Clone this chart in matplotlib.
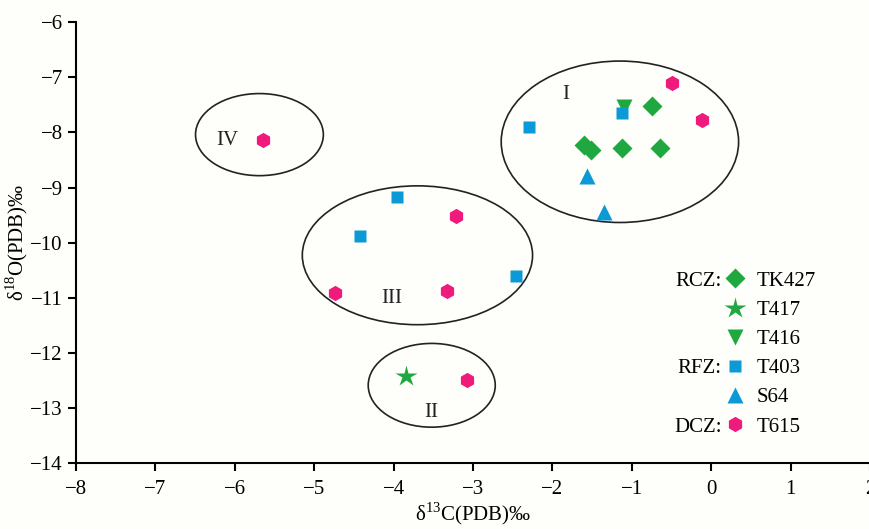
import matplotlib

matplotlib.use("Agg")
import matplotlib.pyplot as plt
from matplotlib.patches import Ellipse

plt.rcParams["font.family"] = ["Liberation Serif", "DejaVu Serif"]
plt.rcParams["mathtext.fontset"] = "custom"
plt.rcParams["mathtext.rm"] = "Liberation Serif"

GREEN = "#1fa83f"
BLUE = "#0b9ad6"
PINK = "#ef1a7c"

# well data: delta13C, delta18O (per mil, PDB)
TK427_X = [-1.60, -1.51, -1.12, -0.65, -0.75]
TK427_Y = [-8.23, -8.32, -8.29, -8.29, -7.52]
T417_X = [-3.84]
T417_Y = [-12.42]
T416_X = [-1.10]
T416_Y = [-7.53]
T403_X = [-2.30, -1.12, -3.96, -4.42, -2.46]
T403_Y = [-7.90, -7.65, -9.18, -9.88, -10.61]
S64_X = [-1.57, -1.35]
S64_Y = [-8.79, -9.44]
T615_X = [-0.50, -0.12, -5.64, -3.22, -4.74, -3.33, -3.08]
T615_Y = [-7.11, -7.78, -8.14, -9.51, -10.92, -10.87, -12.50]

# groups: label, ellipse centre, width, height, label position
GROUP_NAMES = ["I", "II", "III", "IV"]
GROUP_CENTRES = [(-1.15, -8.17), (-3.52, -12.59), (-3.70, -10.23), (-5.69, -8.04)]
GROUP_SIZES = [(2.99, 2.93), (1.60, 1.52), (2.90, 2.52), (1.61, 1.49)]
GROUP_LABEL_POS = [(-1.83, -7.32), (-3.52, -13.08), (-4.02, -11.02), (-6.09, -8.14)]

FS = 15

fig = plt.figure(figsize=(8.7, 5.29), dpi=100, facecolor="#fefefb")
ax = fig.add_axes([0.0874, 0.1248, 0.9126, 0.8332])
ax.set_facecolor("#fefefb")

for (cx, cy), (w, h) in zip(GROUP_CENTRES, GROUP_SIZES):
    ax.add_patch(Ellipse((cx, cy), w, h, fill=False, ec="#222222", lw=1.2, zorder=1))
for name, (lx, ly) in zip(GROUP_NAMES, GROUP_LABEL_POS):
    ax.text(lx, ly, name, fontsize=FS, ha="center", va="center", color="#222222")

kw = dict(ls="none", mec="none", zorder=3)
h1, = ax.plot(TK427_X, TK427_Y, marker="D", ms=10, color=GREEN, label="TK427", **kw)
h2, = ax.plot(T417_X, T417_Y, marker="*", ms=16, color=GREEN, label="T417", **kw)
h3, = ax.plot(T416_X, T416_Y, marker="v", ms=11, color=GREEN, label="T416", **kw)
h4, = ax.plot(T403_X, T403_Y, marker="s", ms=8.5, color=BLUE, label="T403", **kw)
h5, = ax.plot(S64_X, S64_Y, marker="^", ms=11, color=BLUE, label="S64", **kw)
h6, = ax.plot(T615_X, T615_Y, marker="h", ms=11, color=PINK, label="T615", **kw)

ax.set_xlim(-8, 2)
ax.set_ylim(-14, -6)
ax.set_xticks(range(-8, 3))
ax.set_yticks(range(-14, -5))
for s in ["top", "right"]:
    ax.spines[s].set_visible(False)
for s in ["left", "bottom"]:
    ax.spines[s].set_linewidth(1.5)
ax.tick_params(labelsize=FS, width=1.5, length=6, direction="out")
ax.tick_params(axis="x", pad=6)
ax.set_xlabel("δ$^{13}$C(PDB)‰", fontsize=FS, labelpad=1.5)
ax.set_ylabel("δ$^{18}$O(PDB)‰", fontsize=FS, labelpad=0)

leg = fig.legend(handles=[h1, h2, h3, h4, h5, h6], loc="upper left",
                 bbox_to_anchor=(0.833, 0.4875), frameon=False, fontsize=FS,
                 handlelength=1.0, handletextpad=0.55, labelspacing=0.46,
                 borderpad=0, borderaxespad=0, numpoints=1)

# zone labels sit to the left of the first entry in each zone
fig.canvas.draw()
inv = fig.transFigure.inverted()
for idx, zone in [(0, "RCZ:"), (3, "RFZ:"), (5, "DCZ:")]:
    bb = leg.get_texts()[idx].get_window_extent()
    y = inv.transform((0, (bb.y0 + bb.y1) / 2))[1]
    fig.text(722 / 870, y, zone, fontsize=FS, ha="right", va="center")

fig.savefig("out.png", dpi=100, facecolor=fig.get_facecolor())
